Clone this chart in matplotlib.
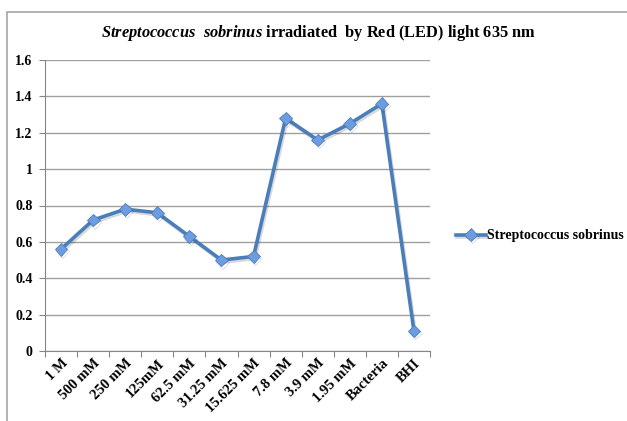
import matplotlib
matplotlib.use("Agg")
from matplotlib import pyplot as plt
from matplotlib.patches import Rectangle
import matplotlib.patheffects as pe

categories = ["1 M", "500 mM", "250 mM", "125mM", "62.5 mM", "31.25 mM",
              "15.625 mM", "7.8 mM", "3.9 mM", "1.95 mM", "Bacteria", "BHI"]
values = [0.56, 0.72, 0.78, 0.76, 0.63, 0.50, 0.52, 1.28, 1.16, 1.25, 1.36, 0.11]
series_name = "Streptococcus sobrinus"
y_ticks = [0, 0.2, 0.4, 0.6, 0.8, 1, 1.2, 1.4, 1.6]
y_labels = ["0", "0.2", "0.4", "0.6", "0.8", "1", "1.2", "1.4", "1.6"]

plt.rcParams["font.family"] = "Liberation Serif"
plt.rcParams["mathtext.fontset"] = "custom"
plt.rcParams["mathtext.it"] = "Liberation Serif:italic:bold"
plt.rcParams["mathtext.rm"] = "Liberation Serif:bold"

W, H = 627, 421
fig = plt.figure(figsize=(W / 100, H / 100), dpi=100)

# outer chart frame
fig.patches.append(Rectangle((7 / W, -0.05), 1.2, 1 - 12 / H + 0.05,
                             transform=fig.transFigure, fill=False,
                             edgecolor="#a6a6a6", linewidth=1.2))

ax = fig.add_axes([45 / W, 1 - 351 / H, 385 / W, 291 / H])
x = list(range(len(categories)))
ax.plot(x, values, color="#4a7ebb", linewidth=2.6, marker="D", markersize=6.5,
        markerfacecolor="#6d9de0", markeredgecolor="#4a7ebb", markeredgewidth=0.6,
        label=series_name,
        path_effects=[pe.SimpleLineShadow(offset=(1, -1.5), alpha=0.15), pe.Normal()])

ax.set_xlim(-0.5, len(categories) - 0.5)
ax.set_ylim(0, 1.6)
ax.set_yticks(y_ticks)
ax.set_yticklabels(y_labels, fontweight="bold", fontsize=10)
ax.yaxis.grid(True, color="#a0a0a0", linewidth=1)
ax.set_axisbelow(True)
ax.set_xticks([i - 0.5 for i in range(len(categories) + 1)], minor=False)
ax.set_xticklabels([])
ax.set_xticks(x, minor=True)
ax.set_xticklabels(categories, minor=True, rotation=45, ha="right",
                   rotation_mode="anchor", fontweight="bold", fontsize=10.5)
ax.tick_params(axis="x", which="minor", length=0, pad=4)
ax.tick_params(axis="x", which="major", length=4, color="#868686")
ax.tick_params(axis="y", length=4, color="#868686", pad=5)
for s in ["top", "right"]:
    ax.spines[s].set_visible(False)
for s in ["left", "bottom"]:
    ax.spines[s].set_color("#868686")

fig.text(319 / W, 1 - 33 / H,
         r"$\mathit{Streptococcus\ \ sobrinus}$ irradiated  by Red (LED) light 635 nm",
         ha="center", va="center", fontsize=11.8, fontweight="bold")

fig.legend(loc="center left", bbox_to_anchor=(443 / W, 1 - 236 / H), frameon=False,
           prop={"weight": "bold", "size": 10}, handlelength=2.2, handletextpad=0.1)

fig.savefig("out.png", dpi=100)
